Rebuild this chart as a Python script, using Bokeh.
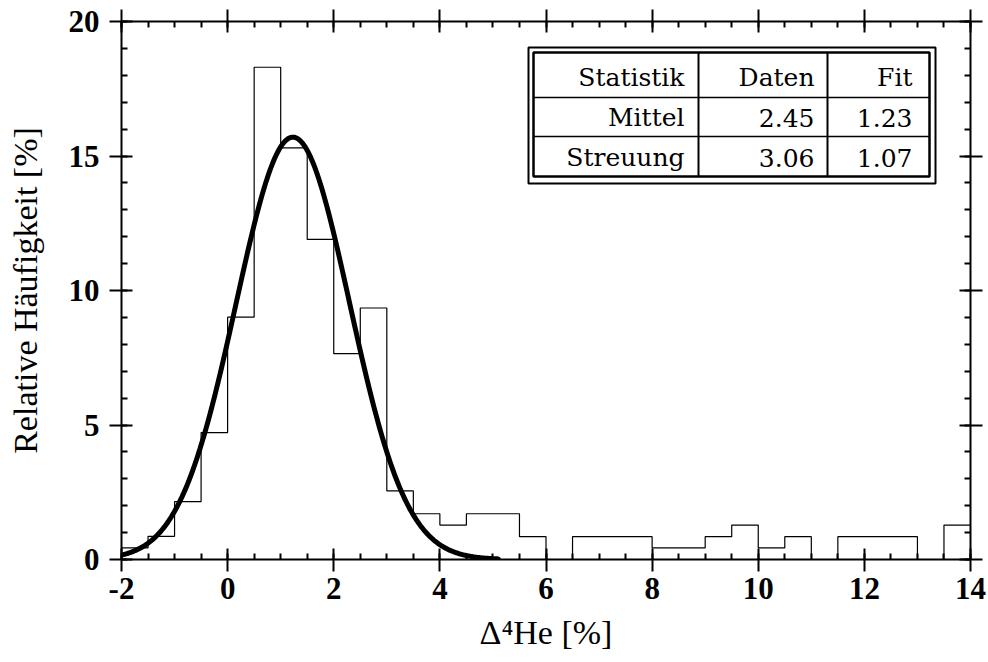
import numpy as np
from bokeh.plotting import figure
from bokeh.models import LinearAxis, Range1d, SingleIntervalTicker, CustomJSTickFormatter
from bokeh.core.properties import value
from bokeh.embed import file_html
from bokeh.resources import INLINE

# ---------------- data ----------------
bin_start = -2.0
bin_width = 0.5
rel_freq = [0.43, 0.86, 2.15, 4.72, 9.01, 18.3, 15.3, 11.9, 7.65, 9.35,
            2.55, 1.70, 1.28, 1.70, 1.70, 0.85, 0.0, 0.85, 0.85, 0.85,
            0.43, 0.43, 0.85, 1.28, 0.43, 0.85, 0.0, 0.85, 0.85, 0.85,
            0.0, 1.28]

fit_mean = 1.23
fit_sigma = 1.07
fit_peak = 15.7
fit_x_min = -2.0
fit_x_max = 5.1

x_ticks = [-2, 0, 2, 4, 6, 8, 10, 12, 14]
x_tick_labels = ["-2", "0", "2", "4", "6", "8", "10", "12", "14"]
y_ticks = [0, 5, 10, 15, 20]
y_tick_labels = ["0", "5", "10", "15", "20"]

table_header = ["Statistik", "Daten", "Fit"]
table_rows = [["Mittel", "2.45", "1.23"],
              ["Streuung", "3.06", "1.07"]]

# ---------------- figure ----------------
SERIF = "Liberation Serif"
TABLE_FONT = "DejaVu Serif"
p = figure(width=988, height=662, x_range=Range1d(-2, 14), y_range=Range1d(0, 20),
           output_backend="svg", toolbar_location=None,
           min_border_left=121, min_border_right=18, min_border_top=21, min_border_bottom=103)
p.xgrid.visible = False
p.ygrid.visible = False
p.outline_line_color = None
p.background_fill_color = "white"
p.border_fill_color = "white"

def style_axis(ax):
    ax.axis_line_width = 2
    ax.axis_line_color = "black"
    ax.major_tick_line_width = 2
    ax.minor_tick_line_width = 2
    ax.major_tick_line_color = "black"
    ax.minor_tick_line_color = "black"
    ax.major_tick_in = 11
    ax.major_tick_out = 12
    ax.minor_tick_in = 6
    ax.minor_tick_out = 0
    ax.major_label_text_font = SERIF
    ax.major_label_text_font_style = "bold"
    ax.major_label_text_font_size = "31px"
    ax.major_label_text_color = "black"
    ax.axis_label_text_font = SERIF
    ax.axis_label_text_font_style = "normal"
    ax.axis_label_text_font_size = "34px"
    ax.axis_label_text_color = "black"

xa = p.xaxis[0]
ya = p.yaxis[0]
xa.ticker = SingleIntervalTicker(interval=2, num_minor_ticks=4)
ya.ticker = SingleIntervalTicker(interval=5, num_minor_ticks=5)
style_axis(xa)
style_axis(ya)
xa.major_label_overrides = {t: s for t, s in zip(x_ticks, x_tick_labels)}
ya.major_label_overrides = {t: s for t, s in zip(y_ticks, y_tick_labels)}
xa.axis_label = "Δ⁴He [%]"
ya.axis_label = "Relative Häufigkeit [%]"
xa.major_label_standoff = 6
ya.major_label_standoff = 10
xa.axis_label_standoff = 12
ya.axis_label_standoff = 22

top = LinearAxis(ticker=SingleIntervalTicker(interval=2, num_minor_ticks=4),
                 formatter=CustomJSTickFormatter(code="return ''"))
right = LinearAxis(ticker=SingleIntervalTicker(interval=5, num_minor_ticks=5),
                   formatter=CustomJSTickFormatter(code="return ''"))
for ax in (top, right):
    style_axis(ax)
    ax.major_label_standoff = 0
p.add_layout(top, "above")
p.add_layout(right, "right")

# ---------------- histogram (step outline) ----------------
edges = [bin_start + i * bin_width for i in range(len(rel_freq) + 1)]
step_y = list(rel_freq) + [rel_freq[-1]]
p.step(x=edges, y=step_y, mode="after", line_color="black", line_width=1.2)

# ---------------- gaussian fit (parameters from the table) ----------------
fx = np.linspace(fit_x_min, fit_x_max, 400)
fy = fit_peak * np.exp(-0.5 * ((fx - fit_mean) / fit_sigma) ** 2)
p.line(fx, fy, line_color="black", line_width=5, line_join="round", line_cap="round")

# ---------------- statistics table (layout in pixels -> data) ----------------
FX0, FX1, FY0, FY1 = 121.0, 970.0, 559.0, 21.0
def dx(px):
    return -2 + (px - FX0) * 16.0 / (FX1 - FX0)
def dy(py):
    return (FY0 - py) * 20.0 / (FY0 - FY1)

p.quad(left=[dx(528)], right=[dx(935)], top=[dy(47)], bottom=[dy(183)],
       fill_color="white", line_color="black", line_width=2)
p.quad(left=[dx(533)], right=[dx(929)], top=[dy(52)], bottom=[dy(176)],
       fill_color=None, line_color="black", line_width=2.5)
p.segment(x0=[dx(698), dx(827)], y0=[dy(52), dy(52)], x1=[dx(698), dx(827)], y1=[dy(176), dy(176)],
          line_color="black", line_width=2)
p.segment(x0=[dx(533), dx(533)], y0=[dy(97), dy(136)], x1=[dx(929), dx(929)], y1=[dy(97), dy(136)],
          line_color="black", line_width=1.5)

col_right = [684, 814, 912]
row_mid = [77, 117, 157]
cells = [table_header] + table_rows
tx, ty, tt = [], [], []
for r, row in enumerate(cells):
    for c, txt in enumerate(row):
        tx.append(dx(col_right[c]))
        ty.append(dy(row_mid[r]))
        tt.append(txt)
p.text(x=tx, y=ty, text=tt, text_font=value(TABLE_FONT), text_font_size="25px",
       text_align="right", text_baseline="middle", text_color="black")

open("out.html", "w").write(file_html(p, INLINE))
